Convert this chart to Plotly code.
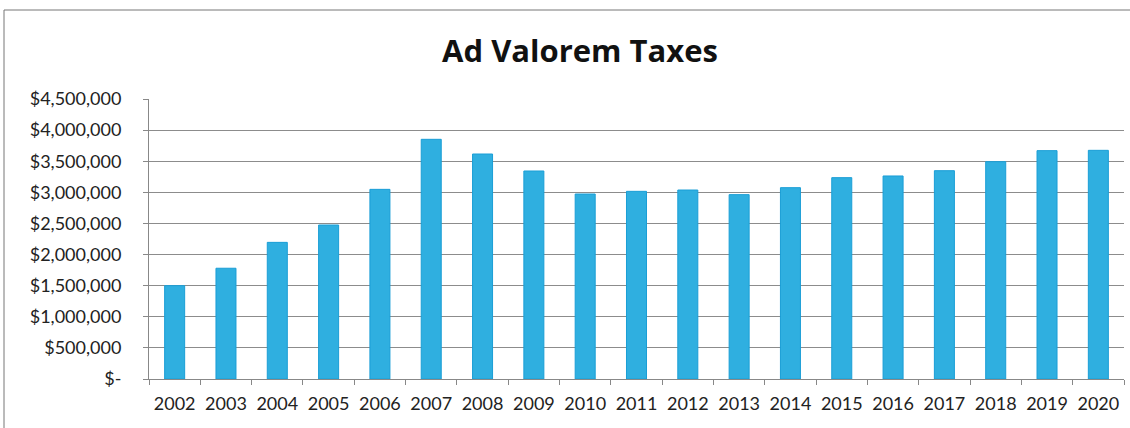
import plotly.graph_objects as go

years = [str(y) for y in range(2002, 2021)]
taxes = [1500000, 1780000, 2196000, 2475000, 3048000, 3852000, 3616000, 3343000,
         2973000, 3016000, 3037000, 2963000, 3075000, 3236000, 3263000, 3348000,
         3493000, 3670000, 3675000]
tick_vals = [0, 500000, 1000000, 1500000, 2000000, 2500000, 3000000, 3500000, 4000000, 4500000]
tick_text = ["$-", "$500,000", "$1,000,000", "$1,500,000", "$2,000,000", "$2,500,000",
             "$3,000,000", "$3,500,000", "$4,000,000", "$4,500,000"]

W, H = 1130, 428
L, R, T, B = 149, 6, 99, 49
pw, ph = W - L - R, H - T - B

fig = go.Figure(go.Bar(
    x=years, y=taxes,
    marker=dict(color="#2fafe0", line=dict(color="#1a9ed6", width=1)),
))

fig.update_layout(
    width=W, height=H,
    margin=dict(l=L, r=R, t=T, b=B),
    paper_bgcolor="white", plot_bgcolor="white",
    bargap=0.61,
    showlegend=False,
    font=dict(family="Lato, 'Open Sans', sans-serif", size=18, color="#222222"),
    title=dict(text="<b>Ad Valorem Taxes</b>", x=580 / W, xref="container", xanchor="center",
               y=1 - 51 / H, yref="container", yanchor="middle",
               font=dict(family="'Open Sans', Lato, sans-serif", size=31, color="#111111")),
    xaxis=dict(type="category", tickson="boundaries", ticks="outside", ticklen=5,
               tickcolor="#888888", showline=True, linecolor="#888888", linewidth=1,
               showgrid=False, tickfont=dict(size=18), ticklabelstandoff=8),
    yaxis=dict(range=[0, 4500000], tickvals=tick_vals, ticktext=tick_text,
               ticks="outside", ticklen=5, tickcolor="#888888",
               showline=True, linecolor="#888888", linewidth=1,
               showgrid=True, gridcolor="#8c8c8c", gridwidth=1,
               zeroline=False, tickfont=dict(size=18), ticklabelstandoff=18),
    shapes=[dict(type="rect", xref="paper", yref="paper",
                 x0=(4 - L) / pw, x1=(W + 10 - L) / pw,
                 y0=-(H + 10 - (H - B)) / ph, y1=(H - B - 10) / ph,
                 line=dict(color="#777777", width=1), fillcolor="rgba(0,0,0,0)", layer="below")],
)

fig.write_html("out.html")
